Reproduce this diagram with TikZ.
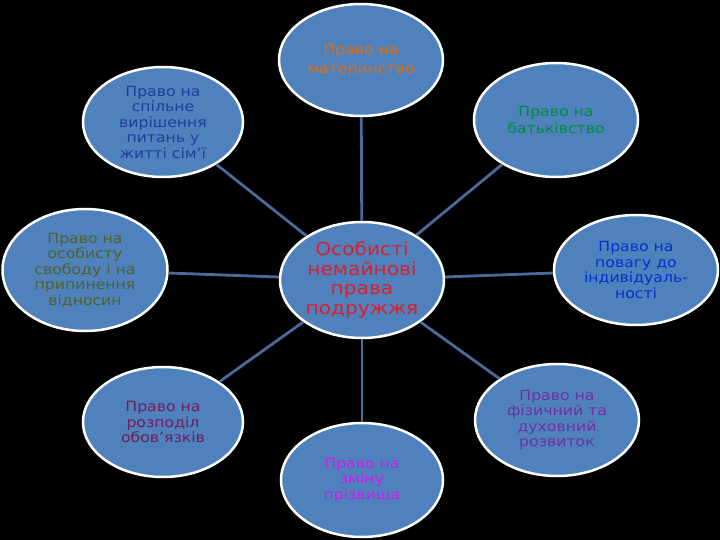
\documentclass[tikz,border=0pt]{standalone}
\usepackage{fontspec}
\setmainfont{DejaVu Sans}
\newfontfamily\widefont[FakeStretch=1.12]{DejaVu Sans}
\usetikzlibrary{shapes.geometric}
\definecolor{ellfill}{RGB}{79,129,189}
\definecolor{linkc}{RGB}{75,105,155}
\definecolor{cRed}{RGB}{222,30,40}
\definecolor{cOrange}{RGB}{228,108,10}
\definecolor{cGreen}{RGB}{0,140,60}
\definecolor{cBlue}{RGB}{0,50,205}
\definecolor{cPurple}{RGB}{112,48,160}
\definecolor{cMagenta}{RGB}{200,30,235}
\definecolor{cMaroon}{RGB}{110,30,90}
\definecolor{cOlive}{RGB}{79,98,40}
\definecolor{cNavy}{RGB}{32,61,154}
\tikzset{
  ell/.style={ellipse, draw=white, line width=2.5pt, fill=ellfill, inner sep=0pt, align=center,
    font=\widefont\fontsize{14}{15.5}\selectfont},
  centre/.style={ell, font=\widefont\fontsize{18}{19.5}\selectfont},
  link/.style={draw=linkc, line width=2.8pt}
}
\begin{document}
\begin{tikzpicture}[x=1pt,y=-1pt]
\fill[black] (0,0) rectangle (720,540);
\useasboundingbox (0,0) rectangle (720,540);
\node[centre, minimum width=164pt, minimum height=116pt, text=cRed] (c) at (362,280) {Особисті\\немайнові\\права\\подружжя};
\node[ell, minimum width=164pt, minimum height=112pt, text=cOrange, font=\widefont\fontsize{14}{19}\selectfont] (t) at (361,60) {Право на\\материнство};
\node[ell, minimum width=164pt, minimum height=114pt, text=cGreen, font=\widefont\fontsize{14}{17}\selectfont] (tr) at (556,120) {Право на\\батьківство};
\node[ell, minimum width=164pt, minimum height=110pt, text=cBlue] (r) at (636,270) {Право на\\повагу до\\індивідуаль-\\ності};
\node[ell, minimum width=164pt, minimum height=112pt, text=cPurple] (br) at (557,420) {Право на\\фізичний та\\духовний\\розвиток};
\node[ell, minimum width=162pt, minimum height=114pt, text=cMagenta] (b) at (362,480) {Право на\\зміну\\прізвища};
\node[ell, minimum width=160pt, minimum height=110pt, text=cMaroon] (bl) at (163,422) {Право на\\розподіл\\обов’язків};
\node[ell, minimum width=165pt, minimum height=122pt, text=cOlive] (l) at (85,270) {Право на\\особисту\\свободу і на\\припинення\\відносин};
\node[ell, minimum width=160pt, minimum height=110pt, text=cNavy] (tl) at (163,122) {Право на\\спільне\\вирішення\\питань у\\житті сім’ї};
\foreach \n in {t,tr,r,br,b,bl,l,tl}{
  \draw[link] (c) -- (\n);
}
\end{tikzpicture}
\end{document}
